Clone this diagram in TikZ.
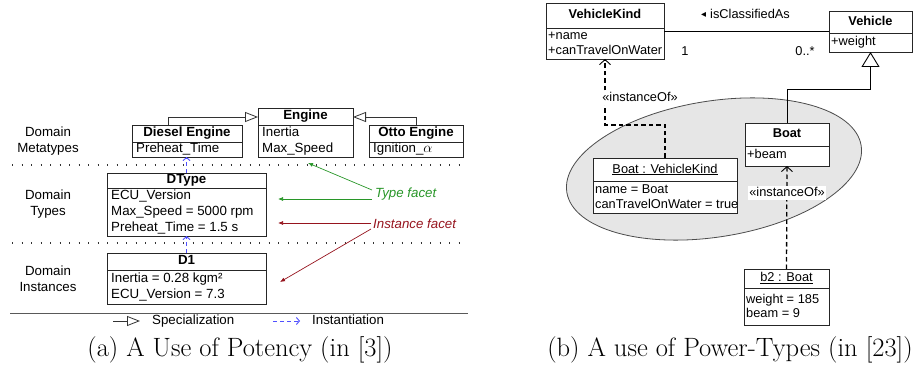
\documentclass[tikz,border=0pt]{standalone}
\usepackage{fontspec}
\usetikzlibrary{arrows.meta}
\newfontfamily\arialf{Liberation Sans}
\newfontfamily\dejavf{DejaVu Sans}
\newcommand\myLF{\arialf\fontsize{13.3}{16}\selectfont}
\newcommand\myRF{\arialf\fontsize{12.8}{15}\selectfont}
\newcommand\myCF{\fontsize{26.5}{31}\selectfont}
\definecolor{instblue}{RGB}{80,80,255}
\definecolor{facetgreen}{RGB}{40,150,40}
\definecolor{facetred}{RGB}{150,20,30}
\definecolor{ellfill}{RGB}{230,230,230}
\tikzset{
  box/.style={draw=black!85, line width=0.9pt, fill=white, inner sep=0pt, outer sep=0pt},
  divl/.style={draw=black!85, line width=0.9pt},
  ltxt/.style={font=\myLF, inner sep=0pt, anchor=west, text height=9.5pt, text depth=2.8pt},
  ltitle/.style={font=\myLF\bfseries, inner sep=0pt, text height=9.5pt, text depth=2.8pt},
  rtxt/.style={font=\myRF, inner sep=0pt, anchor=west, text height=9pt, text depth=2.7pt},
  rtitle/.style={font=\myRF\bfseries, inner sep=0pt, text height=9pt, text depth=2.7pt},
  rinst/.style={font=\myRF, inner sep=0pt, text height=9pt, text depth=2.7pt},
  gen/.style={draw=black!80, line width=0.8pt, -{Triangle[open, length=13pt, width=10pt, fill=white]}},
  gentwo/.style={draw=black, line width=0.9pt, -{Triangle[open, length=15pt, width=18pt, fill=white]}},
  inst/.style={draw=instblue, line width=0.9pt, dash pattern=on 4pt off 3pt, -{Straight Barb[length=3pt, width=7pt]}},
  dinst/.style={draw=black, line width=1.3pt, dash pattern=on 4.5pt off 3pt, -{Straight Barb[length=5pt, width=11pt, line width=0.9pt]}},
  garrow/.style={draw=facetgreen, line width=0.7pt, -{Latex[length=5pt, width=4pt]}},
  rarrow/.style={draw=facetred, line width=0.7pt, -{Latex[length=5pt, width=4pt]}},
  dotline/.style={draw=black!80, line width=1.3pt, dash pattern=on 1.3pt off 8.2pt},
  dlabel/.style={font=\myLF, align=center, inner sep=0pt},
  caption/.style={font=\myCF, inner sep=0pt, anchor=base},
  stereo/.style={font=\myRF, fill=white, inner sep=1pt, text height=9pt, text depth=2.7pt},
}
\begin{document}
\begin{tikzpicture}[x=1pt, y=-1pt]
\useasboundingbox (0,0) rectangle (915,366);

% ===================== Left panel =====================
% labels
\node[dlabel] (dm) at (48,141) {Domain\\Metatypes};
\node[dlabel] (dt) at (48,204.5) {Domain\\Types};
\node[dlabel] (di) at (48,279) {Domain\\Instances};

% separators
\draw[dotline] (12,165) -- (462,165);
\draw[dotline] (12,243) -- (462,243);
\draw[draw=black!65, line width=0.8pt] (10,313) -- (468,313);

% Engine
\node[box, minimum width=95pt, minimum height=49pt] (engine) at (305.5,132.5) {};
\draw[divl] (258,125) -- (353,125);
\node[ltitle] (engt) at (305.5,116.5) {Engine};
\node[ltxt] (enga) at (262,133) {Inertia};
\node[ltxt] (engb) at (262,149) {Max\_Speed};

% Diesel Engine
\node[box, minimum width=110pt, minimum height=32pt] (diesel) at (187,141) {};
\draw[divl] (132,142) -- (242,142);
\node[ltitle] (dist) at (187,133.5) {Diesel Engine};
\node[ltxt] (disa) at (136,149.5) {Preheat\_Time};

% Otto Engine
\node[box, minimum width=94pt, minimum height=32pt] (otto) at (416,141) {};
\draw[divl] (369,142) -- (463,142);
\node[ltitle] (ottt) at (416,133.5) {Otto Engine};
\node[ltxt] (otta) at (373,149.5) {Ignition\_$\alpha$};

% generalizations
\coordinate (dg) at (168,117);
\coordinate (og) at (416,117);
\draw[gen] (dg |- diesel.north) -- (dg) -- (dg -| engine.west);
\draw[gen] (otto.north) -- (og) -- (og -| engine.east);

% DType
\node[box, minimum width=159pt, minimum height=63pt] (dtype) at (186.5,204.5) {};
\draw[divl] (107,188) -- (266,188);
\node[ltitle] (dtt) at (186.5,180.5) {DType};
\node[ltxt] (dta) at (111,196) {ECU\_Version};
\node[ltxt] (dtb) at (111,212.5) {Max\_Speed = 5000 rpm};
\node[ltxt] (dtc) at (111,228.5) {Preheat\_Time = 1.5 s};

% D1
\node[box, minimum width=159pt, minimum height=51pt] (d1) at (186.5,278.5) {};
\draw[divl] (107,270) -- (266,270);
\node[ltitle] (d1t) at (186.5,261.5) {D1};
\node[ltxt] (d1a) at (111,279) {Inertia = 0.28 kgm²};
\node[ltxt] (d1b) at (111,295) {ECU\_Version = 7.3};

% instantiations
\draw[inst] (dtype.north) -- (dtype.north |- diesel.south);
\draw[inst] (d1.north) -- (dtype.south);

% facets
\node[ltxt, font=\myLF\itshape, text=facetgreen] (tf) at (375,194) {Type facet};
\node[ltxt, font=\myLF\itshape, text=facetred] (ifc) at (373,225) {Instance facet};
\coordinate (tf1) at (308,163);
\coordinate (tf2) at (278,199);
\coordinate (if1) at (278,223);
\coordinate (if2) at (280,282);
\draw[garrow] ([shift={(-3pt,4pt)}]tf.west) -- (tf1);
\draw[garrow] ([shift={(-3pt,-5pt)}]tf.west) -- (tf2);
\draw[rarrow] ([shift={(-2pt,2pt)}]ifc.west) -- (if1);
\draw[rarrow] ([shift={(-2pt,-4pt)}]ifc.west) -- (if2);

% legend
\coordinate (ls1) at (113,321);
\coordinate (ls2) at (140,321);
\coordinate (li1) at (273,321);
\coordinate (li2) at (300,321);
\draw[gen] (ls1) -- (ls2);
\draw[inst] (li1) -- (li2);
\node[ltxt] (lsp) at (152,321.5) {Specialization};
\node[ltxt] (lin) at (312,321.5) {Instantiation};

\node[caption] (capa) at (240,356) {(a) A Use of Potency (in [3])};

% ===================== Right panel =====================
% ellipse
\draw[fill=ellfill, draw=black!70, line width=0.8pt, rotate around={9:(714,169)}] (714,169) ellipse (149 and 68);

% VehicleKind
\node[box, minimum width=118pt, minimum height=56pt] (vk) at (605,31) {};
\draw[divl] (546,28) -- (664,28);
\node[rtitle] (vkt) at (605,15.5) {VehicleKind};
\node[rtxt] (vka) at (548,36.5) {+name};
\node[rtxt] (vkb) at (548,51) {+canTravelOnWater};

% Vehicle
\node[box, minimum width=83pt, minimum height=41pt] (veh) at (870.5,31.5) {};
\draw[divl] (829,33) -- (912,33);
\node[rtitle] (veht) at (870.5,22) {Vehicle};
\node[rtxt] (veha) at (831,42.5) {+weight};

% association
\draw[draw=black, line width=0.9pt] (vk.east) -- (vk.east -| veh.west);
\node[rinst, anchor=west] (icl) at (701,15) {\raisebox{0.5pt}{\dejavf\fontsize{10}{10}\selectfont ◂}\hspace{4pt}isClassifiedAs};
\node[rinst] (m1) at (685,52) {1};
\node[rinst] (m2) at (805,52) {0..*};

% Boat
\node[box, minimum width=84pt, minimum height=43pt] (boat) at (787,144.5) {};
\draw[divl] (745,146) -- (829,146);
\node[rtitle] (boatt) at (787,134) {Boat};
\node[rtxt] (boata) at (747,155.5) {+beam};

% Boat : VehicleKind
\node[box, minimum width=144pt, minimum height=55pt] (bvk) at (665,185.5) {};
\draw[divl] (593,181.5) -- (737,181.5);
\node[rinst] (bvkt) at (665,170) {\underline{Boat : VehicleKind}};
\node[rtxt] (bvka) at (595,190) {name = Boat};
\node[rtxt] (bvkb) at (595,205) {canTravelOnWater = true};

% b2 : Boat
\node[box, minimum width=85pt, minimum height=56pt] (b2) at (786.5,297) {};
\draw[divl] (744,288) -- (829,288);
\node[rinst] (b2t) at (786.5,278.5) {\underline{b2 : Boat}};
\node[rtxt] (b2a) at (746,300) {weight = 185};
\node[rtxt] (b2b) at (746,314) {beam = 9};

% generalization Boat -> Vehicle
\coordinate (bg) at (870.5,89);
\draw[gentwo] (boat.north) |- (bg) -- (veh.south);

% instanceOf connectors
\coordinate (c1) at (605,125);
\draw[dinst] (bvk.north) |- (c1) -- (vk.south);
\draw[dinst] (b2.north) -- (boat.south);
\node[stereo] (st1) at (640,98) {«instanceOf»};
\node[stereo] (st2) at (787,193) {«instanceOf»};

\node[caption] (capb) at (730,356) {(b) A use of Power-Types (in [23])};
\end{tikzpicture}
\end{document}
